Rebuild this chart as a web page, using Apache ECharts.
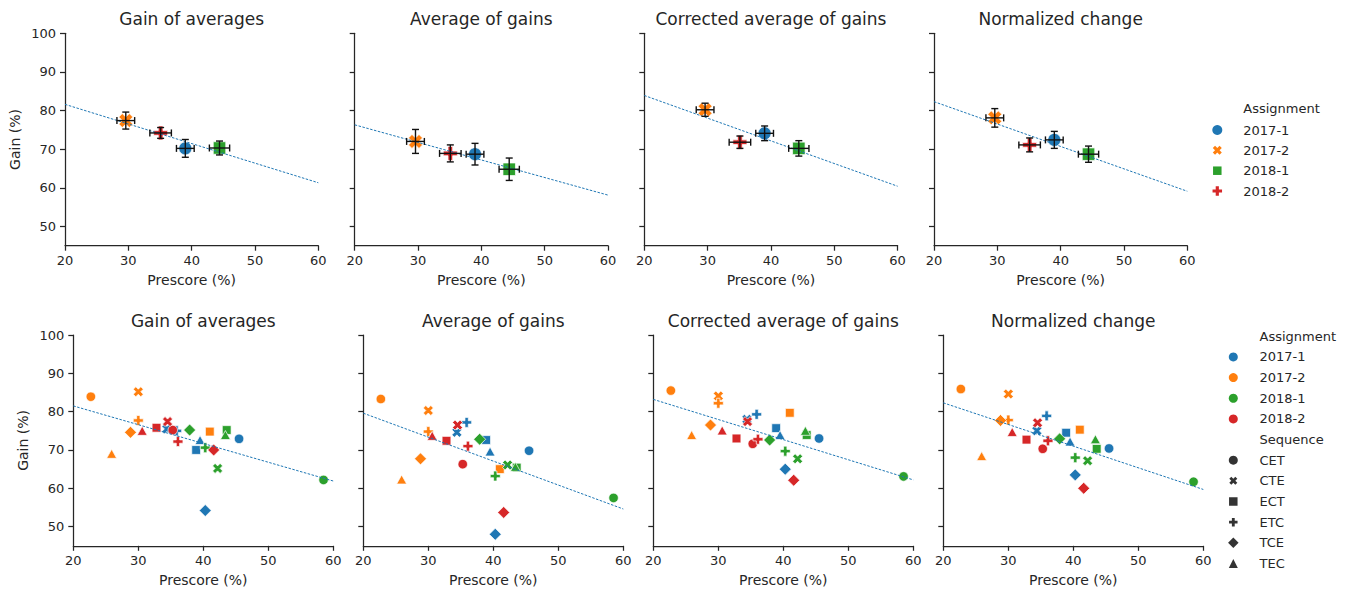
<!DOCTYPE html>
<html><head><meta charset="utf-8">
<script src="https://cdn.jsdelivr.net/npm/echarts@6/dist/echarts.min.js"></script>
<style>html,body{margin:0;padding:0;background:#fff}#c{width:1356px;height:590px}</style>
</head><body><div id="c"></div>
<script>
// ---------------- DATA ----------------
const titles = ['Gain of averages', 'Average of gains', 'Corrected average of gains', 'Normalized change'];
const assignments = ['2017-1', '2017-2', '2018-1', '2018-2'];
const sequences = ['CET', 'CTE', 'ECT', 'ETC', 'TCE', 'TEC'];
const xTicks = [20, 30, 40, 50, 60];
const yTicks = [50, 60, 70, 80, 90, 100];
const xLabel = 'Prescore (%)';
const yLabel = 'Gain (%)';

// Top row: means per assignment (order: 2017-1, 2017-2, 2018-1, 2018-2)
const meanPrescore = [39.0, 29.6, 44.4, 35.1];
const meanPrescoreErr = [1.4, 1.4, 1.6, 1.7];
const meanGainGoA = [70.2, 77.4, 70.3, 74.2];
const meanGainAoG = [68.7, 72.0, 64.8, 68.9];
const meanGainCAoG = [74.1, 80.2, 70.2, 71.8];
const meanGainNC = [72.4, 78.1, 68.7, 71.1];
const meanErrGoA = [2.3, 2.2, 1.8, 1.4];
const meanErrAoG = [2.8, 3.1, 2.9, 2.2];
const meanErrCAoG = [1.9, 1.7, 2.0, 1.6];
const meanErrNC = [2.2, 2.4, 2.1, 1.8];
// trend line values at x=20 and x=60
const trendTop = [[81.6, 61.3], [76.3, 58.1], [83.9, 60.4], [82.3, 59.1]];
const trendBottom = [[81.5, 61.9], [79.6, 54.6], [83.2, 62.2], [82.3, 59.7]];

// Bottom row: rows = assignments, columns = sequences (CET, CTE, ECT, ETC, TCE, TEC)
const prescore = [
  [45.5, 34.4, 38.9, 35.9, 40.3, 39.5],
  [22.7, 30.0, 41.0, 30.0, 28.8, 25.9],
  [58.5, 42.2, 43.6, 40.3, 37.9, 43.4],
  [35.3, 34.5, 32.8, 36.1, 41.6, 30.6]
];
const gainGoA = [
  [72.9, 75.5, 70.0, 75.0, 54.2, 72.6],
  [83.9, 85.2, 74.8, 77.7, 74.6, 69.0],
  [62.2, 65.2, 75.2, 70.6, 75.2, 73.9],
  [75.2, 77.4, 75.8, 72.2, 70.0, 75.0]
];
const gainAoG = [
  [69.8, 74.6, 72.6, 77.2, 48.0, 69.6],
  [83.3, 80.3, 65.0, 74.8, 67.7, 62.3],
  [57.5, 66.1, 65.4, 63.2, 72.8, 65.6],
  [66.3, 76.5, 72.4, 71.0, 53.7, 73.7]
];
const gainCAoG = [
  [73.0, 78.0, 75.7, 79.3, 65.0, 73.9],
  [85.5, 84.1, 79.7, 82.2, 76.5, 73.9],
  [63.1, 67.7, 73.9, 69.7, 72.6, 75.0],
  [71.6, 77.4, 73.0, 72.8, 62.1, 75.1]
];
const gainNC = [
  [70.4, 75.0, 74.5, 78.9, 63.5, 72.2],
  [85.9, 84.6, 75.3, 77.8, 77.7, 68.4],
  [61.7, 67.2, 70.3, 68.0, 72.9, 72.8],
  [70.3, 77.1, 72.7, 72.4, 60.0, 74.7]
];

// ---------------- STYLE / LAYOUT ----------------
const FONT = 'DejaVu Sans';
const INK = '#262626';
const colors = ['#1f77b4', '#ff7f0e', '#2ca02c', '#d62728'];
const X_PATH = 'path://M-1,-2L0,-1L1,-2L2,-1L1,0L2,1L1,2L0,1L-1,2L-2,1L-1,0L-2,-1Z';
const P_PATH = 'path://M-1,-3L1,-3L1,-1L3,-1L3,1L1,1L1,3L-1,3L-1,1L-3,1L-3,-1L-1,-1Z';
const seqSymbol = { CET: 'circle', CTE: X_PATH, ECT: 'rect', ETC: P_PATH, TCE: 'diamond', TEC: 'triangle' };
const seqSize = { CET: 9.5, CTE: 10, ECT: 8.8, ETC: 10, TCE: 12, TEC: [10, 9] };
const topSymbol = ['circle', X_PATH, 'rect', P_PATH];
const topSize = [13, 14, 12.5, 14];

const topGrids = [65, 354.7, 644.3, 934].map(l => ({ left: l, top: 33.3, width: 253.3, height: 212.4 }));
const botGrids = [73.3, 363.3, 653.3, 943.3].map(l => ({ left: l, top: 335, width: 260, height: 210.8 }));
const grids = topGrids.concat(botGrids);

const meanGains = [meanGainGoA, meanGainAoG, meanGainCAoG, meanGainNC];
const meanErrs = [meanErrGoA, meanErrAoG, meanErrCAoG, meanErrNC];
const gains = [gainGoA, gainAoG, gainCAoG, gainNC];

const axisLineStyle = { color: INK, width: 1.25 };
const xAxes = [], yAxes = [], series = [], titleList = [];

grids.forEach((g, i) => {
  const col = i % 4;
  xAxes.push({
    gridIndex: i, type: 'value', min: 20, max: 60, interval: 10,
    axisLine: { show: true, onZero: false, lineStyle: axisLineStyle },
    axisTick: { show: true, length: 5, lineStyle: axisLineStyle, customValues: xTicks },
    axisLabel: { color: INK, fontSize: 13, fontFamily: FONT, margin: 8, customValues: xTicks },
    splitLine: { show: false },
    name: xLabel, nameLocation: 'middle', nameGap: 27,
    nameTextStyle: { color: INK, fontSize: 14, fontFamily: FONT }
  });
  yAxes.push({
    gridIndex: i, type: 'value', min: 45, max: 100, interval: 5,
    axisLine: { show: true, onZero: false, lineStyle: axisLineStyle },
    axisTick: { show: true, length: 5, lineStyle: axisLineStyle, customValues: yTicks },
    axisLabel: { show: col === 0, color: INK, fontSize: 13, fontFamily: FONT, margin: 9, customValues: yTicks },
    splitLine: { show: false },
    name: col === 0 ? yLabel : '', nameLocation: 'middle', nameRotate: 90, nameGap: 43,
    nameTextStyle: { color: INK, fontSize: 14, fontFamily: FONT }
  });
  titleList.push({
    text: titles[col], left: g.left + g.width / 2, top: (i < 4 ? 10.5 : 312.5), textAlign: 'center', padding: 0,
    textStyle: { fontSize: 17, fontWeight: 'normal', color: INK, fontFamily: FONT }
  });
});

// Top row series
for (let p = 0; p < 4; p++) {
  series.push({
    type: 'line', xAxisIndex: p, yAxisIndex: p, silent: true, symbol: 'none', z: 4,
    data: [[20, trendTop[p][0]], [60, trendTop[p][1]]],
    lineStyle: { color: colors[0], width: 1, type: [2.5, 1.5] }
  });
  assignments.forEach((a, k) => {
    series.push({
      type: 'scatter', name: a, xAxisIndex: p, yAxisIndex: p, z: 3,
      symbol: topSymbol[k], symbolSize: topSize[k],
      itemStyle: { color: colors[k], borderColor: 'rgba(255,255,255,0.7)', borderWidth: 1, opacity: 1 },
      data: [[meanPrescore[k], meanGains[p][k]]]
    });
  });
  series.push({
    type: 'custom', xAxisIndex: p, yAxisIndex: p, z: 5, silent: true,
    data: assignments.map((a, k) => [meanPrescore[k], meanGains[p][k], meanPrescoreErr[k], meanErrs[p][k]]),
    renderItem: function (params, api) {
      const x = api.value(0), y = api.value(1), ex = api.value(2), ey = api.value(3);
      const l = api.coord([x - ex, y]), r = api.coord([x + ex, y]);
      const t = api.coord([x, y + ey]), b = api.coord([x, y - ey]);
      const cap = 3.5;
      const st = { stroke: '#111', lineWidth: 1.4 };
      const ln = (x1, y1, x2, y2) => ({ type: 'line', shape: { x1, y1, x2, y2 }, style: st });
      return {
        type: 'group', children: [
          ln(l[0], l[1], r[0], r[1]),
          ln(l[0], l[1] - cap, l[0], l[1] + cap),
          ln(r[0], r[1] - cap, r[0], r[1] + cap),
          ln(t[0], t[1], b[0], b[1]),
          ln(t[0] - cap, t[1], t[0] + cap, t[1]),
          ln(b[0] - cap, b[1], b[0] + cap, b[1])
        ]
      };
    }
  });
}

// Bottom row series
for (let p = 0; p < 4; p++) {
  const gi = p + 4;
  series.push({
    type: 'line', xAxisIndex: gi, yAxisIndex: gi, silent: true, symbol: 'none', z: 4,
    data: [[20, trendBottom[p][0]], [60, trendBottom[p][1]]],
    lineStyle: { color: colors[0], width: 1, type: [2.5, 1.5] }
  });
  assignments.forEach((a, k) => {
    series.push({
      type: 'scatter', name: a, xAxisIndex: gi, yAxisIndex: gi, z: 3,
      itemStyle: { color: colors[k], borderColor: '#fff', borderWidth: 0.7, opacity: 1 },
      data: sequences.map((s, j) => ({
        value: [prescore[k][j], gains[p][k][j]],
        symbol: seqSymbol[s], symbolSize: seqSize[s]
      }))
    });
  });
}

// ---------------- LEGENDS (graphic) ----------------
function marker(kind, cx, cy, s, color) {
  const st = { fill: color };
  const poly = pts => ({ type: 'polygon', shape: { points: pts }, style: st, silent: true, z: 10 });
  switch (kind) {
    case 'circle': return { type: 'circle', shape: { cx, cy, r: s / 2 }, style: st, silent: true, z: 10 };
    case 'square': return { type: 'rect', shape: { x: cx - s / 2, y: cy - s / 2, width: s, height: s }, style: st, silent: true, z: 10 };
    case 'diamond': return poly([[cx, cy - s / 2], [cx + s / 2, cy], [cx, cy + s / 2], [cx - s / 2, cy]]);
    case 'triangle': return poly([[cx, cy - s / 2], [cx + s / 2, cy + s / 2], [cx - s / 2, cy + s / 2]]);
    case 'x': {
      const u = s / 4;
      return poly([[-1, -2], [0, -1], [1, -2], [2, -1], [1, 0], [2, 1], [1, 2], [0, 1], [-1, 2], [-2, 1], [-1, 0], [-2, -1]].map(q => [cx + q[0] * u, cy + q[1] * u]));
    }
    case 'plus': {
      const u = s / 6;
      return poly([[-1, -3], [1, -3], [1, -1], [3, -1], [3, 1], [1, 1], [1, 3], [-1, 3], [-1, 1], [-3, 1], [-3, -1], [-1, -1]].map(q => [cx + q[0] * u, cy + q[1] * u]));
    }
  }
}
function label(text, x, y) {
  return { type: 'text', silent: true, z: 10, style: { text, x, y, fill: INK, fontSize: 13, fontFamily: FONT, verticalAlign: 'middle', align: 'left' } };
}
const graphics = [];
// top legend
const topKinds = ['circle', 'x', 'square', 'plus'];
const topKSize = [10, 9, 8.5, 9.5];
graphics.push(label('Assignment', 1243.3, 108.3));
const topLegY = [130, 150.3, 170.7, 191];
assignments.forEach((a, k) => {
  graphics.push(marker(topKinds[k], 1217.3, topLegY[k], topKSize[k], colors[k]));
  graphics.push(label(a, 1243.3, topLegY[k]));
});
// bottom legend
const botY0 = 336.3, botStep = 20.65;
graphics.push(label('Assignment', 1259.5, botY0));
assignments.forEach((a, k) => {
  const y = botY0 + botStep * (k + 1);
  graphics.push(marker('circle', 1233.3, y, 9, colors[k]));
  graphics.push(label(a, 1259.5, y));
});
graphics.push(label('Sequence', 1259.5, botY0 + botStep * 5));
const seqKinds = ['circle', 'x', 'square', 'plus', 'diamond', 'triangle'];
const seqKSize = [9, 8, 8.5, 8.5, 10.5, 9];
sequences.forEach((s, j) => {
  const y = botY0 + botStep * (6 + j);
  graphics.push(marker(seqKinds[j], 1233.3, y, seqKSize[j], '#333'));
  graphics.push(label(s, 1259.5, y));
});

const option = {
  backgroundColor: '#fff',
  animation: false,
  textStyle: { fontFamily: FONT },
  title: titleList,
  grid: grids,
  xAxis: xAxes,
  yAxis: yAxes,
  series: series,
  graphic: graphics
};
const chart = echarts.init(document.getElementById('c'), null, { renderer: 'svg' });
chart.setOption(option);
</script></body></html>
